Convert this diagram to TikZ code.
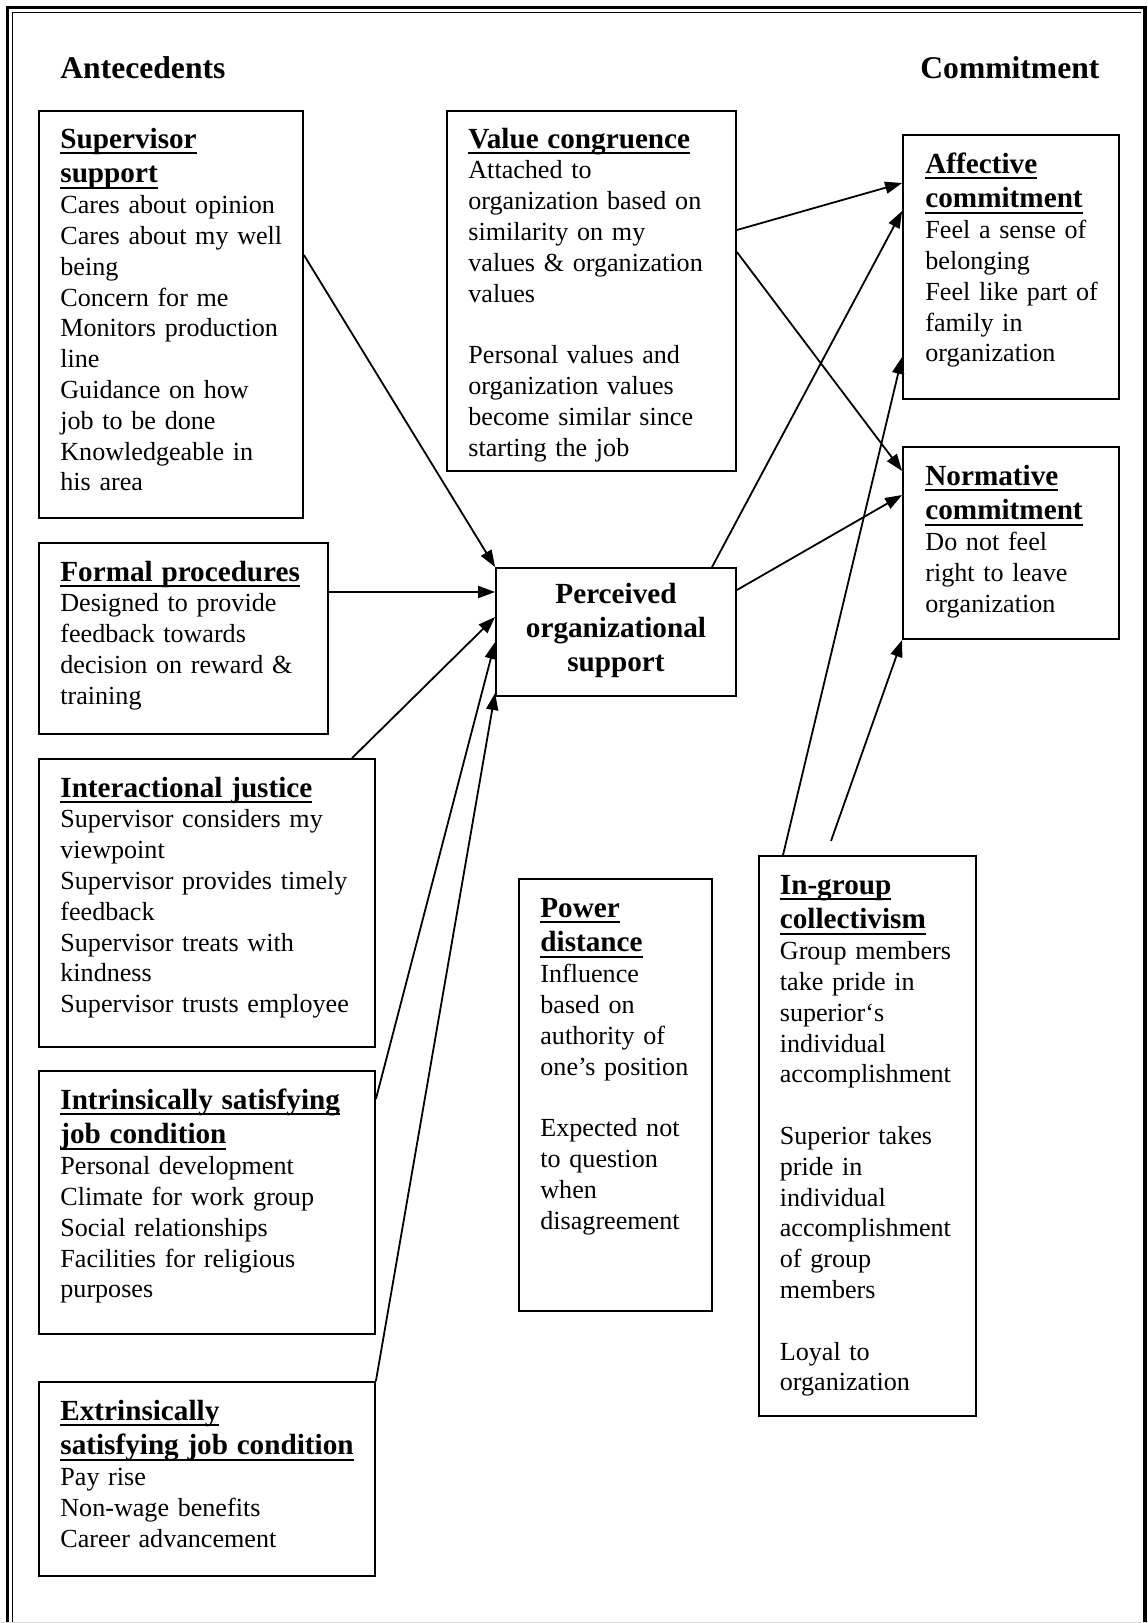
\documentclass[tikz,border=0pt]{standalone}
\usepackage{fontspec}
\setmainfont{Liberation Serif}
\usetikzlibrary{arrows.meta,fit}

% type sizes (the picture uses 1 unit = 0.5pt)
\newcommand\bodyfont{\fontsize{13.05pt}{15.4pt}\selectfont}
\newcommand\titlefont{\fontsize{14.6pt}{17.4pt}\selectfont\bfseries}
\newcommand\headfont{\fontsize{15.8pt}{18pt}\selectfont\bfseries}
% underlined box title
\newcommand\ulT[1]{\leavevmode\setbox0\hbox{#1}\rlap{\rule[-3.2pt]{\wd0}{1.3pt}}\box0}
\newcommand\ttl[1]{{\titlefont #1\par}}

\tikzset{
  box/.style={draw, line width=0.9pt, inner sep=0pt},
  txt/.style={anchor=base west, inner sep=0pt, text width=200pt, align=left, font=\bodyfont},
  head/.style={anchor=base west, inner sep=0pt, font=\headfont},
  link/.style={line width=0.9pt, -{Triangle[length=8.5pt,width=6pt]}},
}

\begin{document}
\begin{tikzpicture}[x=0.5pt, y=-0.5pt]
\useasboundingbox (0,0) rectangle (1147,1623);
\clip (0,0) rectangle (1147,1623);

% page frame
\draw[line width=1.6pt] (7.5,1640) -- (7.5,7.5) -- (1145,7.5) -- (1145,1640);
\draw[line width=0.8pt] (12.5,1640) -- (12.5,12.5) -- (1141,12.5);
\draw[gray!30, line width=0.5pt] (0,1622.5) -- (1147,1622.5);

% column headings
\node[head] (hAnte) at (60,78) {Antecedents};
\node[head] (hComm) at (920,78) {Commitment};

% boxes
\node[box, fit={(39,110.7)(303,518)}] (sup) {};
\node[box, fit={(39,543)(328,734)}] (form) {};
\node[box, fit={(39,759)(375,1047)}] (inter) {};
\node[box, fit={(39,1071)(375,1334)}] (intr) {};
\node[box, fit={(39,1382)(375,1576)}] (extr) {};
\node[box, fit={(447,111)(736,471)}] (val) {};
\node[box, fit={(496,568)(736,696)}] (pos) {};
\node[box, fit={(903,135)(1119,398.6)}] (aff) {};
\node[box, fit={(903,447)(1119,639)}] (norm) {};
\node[box, fit={(519,879)(712,1311)}] (pow) {};
\node[box, fit={(759,856)(976,1416)}] (ing) {};

% box texts
\node[txt] (supT) at (60,148) {\ttl{\ulT{Supervisor}\\\ulT{support}}
Cares about opinion\\Cares about my well\\being\\Concern for me\\Monitors production\\line\\Guidance on how\\job to be done\\Knowledgeable in\\his area};

\node[txt] (formT) at (60,581) {\ttl{\ulT{Formal procedures}}
Designed to provide\\feedback towards\\decision on reward \&\\training};

\node[txt] (interT) at (60,797) {\ttl{\ulT{Interactional justice}}
Supervisor considers my\\viewpoint\\Supervisor provides timely\\feedback\\Supervisor treats with\\kindness\\Supervisor trusts employee};

\node[txt] (intrT) at (60,1109) {\ttl{\ulT{Intrinsically satisfying}\\\ulT{job condition}}
Personal development\\Climate for work group\\Social relationships\\Facilities for religious\\purposes};

\node[txt] (extrT) at (60,1420) {\ttl{\ulT{Extrinsically}\\\ulT{satisfying job condition}}
Pay rise\\Non-wage benefits\\Career advancement};

\node[txt] (valT) at (468,148) {\ttl{\ulT{Value congruence}}
Attached to\\organization based on\\similarity on my\\values \& organization\\values\\~\\Personal values and\\organization values\\become similar since\\starting the job};

\node[anchor=base, inner sep=0pt, text width=120pt, align=center,
      font=\fontsize{14.6pt}{17.2pt}\selectfont\bfseries] (posT) at (616,603)
  {Perceived\\organizational\\support};

\node[txt] (affT) at (925,173) {\ttl{\ulT{Affective}\\\ulT{commitment}}
Feel a sense of\\belonging\\Feel like part of\\family in\\organization};

\node[txt] (normT) at (925,485) {\ttl{\ulT{Normative}\\\ulT{commitment}}
Do not feel\\right to leave\\organization};

\node[txt] (powT) at (540,917) {\ttl{\ulT{Power}\\\ulT{distance}}
Influence\\based on\\authority of\\one’s position\\~\\Expected not\\to question\\when\\disagreement};

\node[txt] (ingT) at (779.5,894) {\ttl{\ulT{In-group}\\\ulT{collectivism}}
Group members\\take pride in\\superior‘s\\individual\\accomplishment\\~\\Superior takes\\pride in\\individual\\accomplishment\\of group\\members\\~\\Loyal to\\organization};

% connectors into perceived organizational support
\draw[link] (sup.east |- 0,255) -- (pos.north west);
\draw[link] (form.east |- 0,592) -- (pos.west |- 0,592);
\draw[link] (inter.north -| 352,0) -- (pos.west |- 0,617);
\draw[link] (intr.east |- 0,1099) -- (pos.west |- 0,642);
\draw[link] (extr.north east) -- (pos.west |- 0,693);

% connectors into commitment
\draw[link] (val.east |- 0,230) -- (aff.west |- 0,183);
\draw[link] (val.east |- 0,252) -- (norm.west |- 0,471);
\draw[link] (pos.north -| 712,0) -- (aff.west |- 0,211);
\draw[link] (pos.east |- 0,590) -- (norm.west |- 0,495);
\draw[link] (ing.north -| 783,0) -- (aff.west |- 0,357);
\coordinate (ingFree) at (831,841);
\draw[link] (ingFree) -- (norm.south west);
\end{tikzpicture}
\end{document}
